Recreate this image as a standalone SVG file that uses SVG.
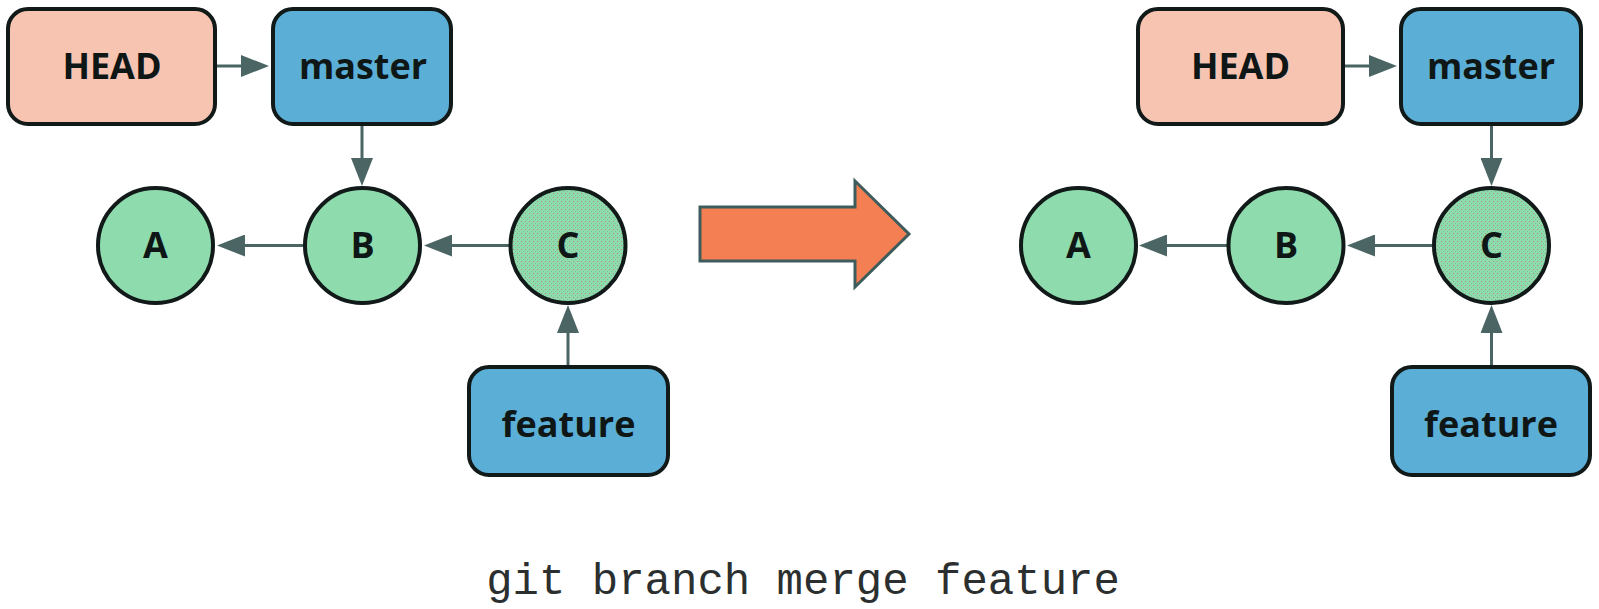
<svg xmlns="http://www.w3.org/2000/svg" width="1599" height="609" viewBox="0 0 1599 609">
<style>
  .head { fill: #F7C4B1; stroke: #111919; stroke-width: 4; }
  .branch { fill: #5BAFD7; stroke: #111919; stroke-width: 4; }
  .commit { fill: #8EDCAE; stroke: #111919; stroke-width: 4; }
  .tip { fill: url(#stipple); stroke: #111919; stroke-width: 4; }
  .lbl { font-family: "Open Sans", "Noto Sans", "DejaVu Sans", sans-serif; font-weight: 700; font-size: 36px; fill: #0f1616; text-anchor: middle; }
  .edge { stroke: #4B6565; stroke-width: 3; fill: none; marker-end: url(#ah); }
  .caption { font-family: "Liberation Mono", "Courier New", monospace; font-size: 44px; fill: #2b2f2f; text-anchor: middle; }
</style>
<defs>
  <marker id="ah" viewBox="0 0 28 22" refX="18" refY="11" markerWidth="28" markerHeight="22" markerUnits="userSpaceOnUse" orient="auto">
    <path d="M0,0 L28,11 L0,22 z" fill="#4B6565"/>
  </marker>
  <pattern id="stipple" width="4" height="4" patternUnits="userSpaceOnUse">
    <rect width="4" height="4" fill="#8EDCAE"/>
    <rect x="1" y="1" width="1" height="1" fill="#B08A80"/>
    <rect x="3" y="3" width="1" height="1" fill="#7FBF98"/>
  </pattern>
</defs>
<rect width="1599" height="609" fill="#ffffff"/>

<g id="connectors">
  <line class="edge" x1="217" y1="66" x2="259" y2="66"/>
  <line class="edge" x1="362" y1="126" x2="362" y2="176"/>
  <line class="edge" x1="303" y1="245.5" x2="227" y2="245.5"/>
  <line class="edge" x1="509" y1="245.5" x2="434" y2="245.5"/>
  <line class="edge" x1="568" y1="365" x2="568" y2="315"/>

  <line class="edge" x1="1345" y1="66" x2="1387" y2="66"/>
  <line class="edge" x1="1491.5" y1="126" x2="1491.5" y2="176"/>
  <line class="edge" x1="1227" y1="245.5" x2="1149" y2="245.5"/>
  <line class="edge" x1="1432" y1="245.5" x2="1357" y2="245.5"/>
  <line class="edge" x1="1491.5" y1="365" x2="1491.5" y2="315"/>
</g>

<g id="head-left"><rect class="head" x="8" y="9" width="207" height="115" rx="20"/><text class="lbl" x="112" y="79">HEAD</text></g>
<g id="master-left"><rect class="branch" x="273" y="9" width="178" height="115" rx="20"/><text class="lbl" x="363" y="79">master</text></g>
<g id="commit-a-left"><circle class="commit" cx="155.5" cy="245.5" r="57.5"/><text class="lbl" x="155.5" y="258">A</text></g>
<g id="commit-b-left"><circle class="commit" cx="362.5" cy="245.5" r="57.5"/><text class="lbl" x="362.5" y="258">B</text></g>
<g id="commit-c-left"><circle class="tip" cx="568" cy="245.5" r="57.5"/><text class="lbl" x="568" y="258">C</text></g>
<g id="feature-left"><rect class="branch" x="469" y="367" width="199" height="108" rx="20"/><text class="lbl" x="568.5" y="437">feature</text></g>

<g id="transition-arrow"><polygon points="700,207 855,207 855,181 909,234 855,287 855,261 700,261" fill="#F47F52" stroke="#3E5C5C" stroke-width="3" stroke-linejoin="miter"/></g>

<g id="head-right"><rect class="head" x="1138" y="9" width="205" height="115" rx="20"/><text class="lbl" x="1240.5" y="79">HEAD</text></g>
<g id="master-right"><rect class="branch" x="1401" y="9" width="180" height="115" rx="20"/><text class="lbl" x="1491" y="79">master</text></g>
<g id="commit-a-right"><circle class="commit" cx="1078.5" cy="245.5" r="57.5"/><text class="lbl" x="1078.5" y="258">A</text></g>
<g id="commit-b-right"><circle class="commit" cx="1286" cy="245.5" r="57.5"/><text class="lbl" x="1286" y="258">B</text></g>
<g id="commit-c-right"><circle class="tip" cx="1491.5" cy="245.5" r="57.5"/><text class="lbl" x="1491.5" y="258">C</text></g>
<g id="feature-right"><rect class="branch" x="1392" y="367" width="198" height="108" rx="20"/><text class="lbl" x="1491" y="437">feature</text></g>

<text class="caption" x="803" y="594">git branch merge feature</text>
</svg>
